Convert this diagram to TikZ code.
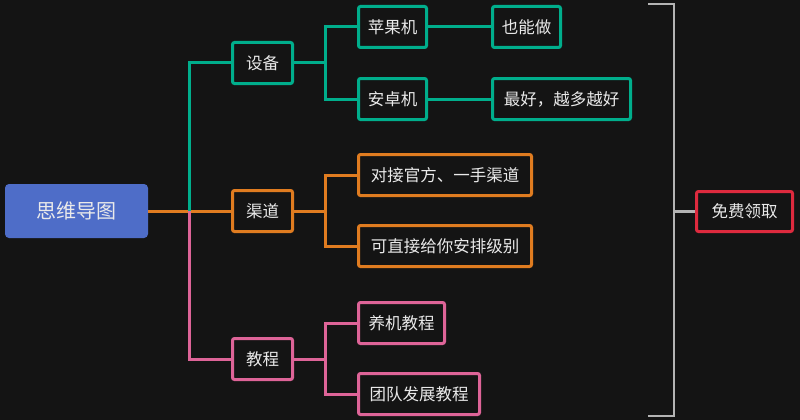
\documentclass[tikz,border=0pt]{standalone}
\usepackage{fontspec}
\setmainfont{Noto Sans CJK SC}
\definecolor{bg}{HTML}{141414}
\definecolor{rootblue}{HTML}{4E6DC8}
\definecolor{tgreen}{HTML}{00AE8C}
\definecolor{torange}{HTML}{E07C20}
\definecolor{tpink}{HTML}{DE6498}
\definecolor{tred}{HTML}{DE2A3E}
\definecolor{tgray}{HTML}{B4B4B4}
\definecolor{txt}{HTML}{EAEAEA}
\begin{document}
\begin{tikzpicture}[x=1pt, y=-1pt,
  every node/.style={font=\fontsize{16.5}{19}\selectfont, text=txt},
  box/.style={draw=#1, line width=3pt, rounded corners=2pt, inner sep=0pt,
              minimum height=41pt},
  link/.style={line width=3pt}]

% --- Fondo ---
\fill[bg] (0,0) rectangle (800,420);

% --- Nodos ---
\node[fill=rootblue, rounded corners=4pt, minimum width=143pt, minimum height=54pt,
      font=\fontsize{20}{24}\selectfont] (R) at (76.5,211) {思维导图};

\node[box=tgreen,  minimum width=60pt] (S) at (262.5,63)  {设备};
\node[box=torange, minimum width=60pt] (Q) at (262.5,211) {渠道};
\node[box=tpink,   minimum width=60pt] (J) at (262.5,359) {教程};

\node[box=tgreen, minimum width=68pt]  (S1) at (392.5,27) {苹果机};
\node[box=tgreen, minimum width=68pt]  (S2) at (392.5,99) {安卓机};
\node[box=tgreen, minimum width=68pt]  (S3) at (526.5,27) {也能做};
\node[box=tgreen, minimum width=138pt] (S4) at (561.5,99) {最好，越多越好};

\node[box=torange, minimum width=173pt] (Q1) at (445,175) {对接官方、一手渠道};
\node[box=torange, minimum width=173pt] (Q2) at (445,246) {可直接给你安排级别};

\node[box=tpink, minimum width=86pt]  (J1) at (401.5,323) {养机教程};
\node[box=tpink, minimum width=121pt] (J2) at (419,394)   {团队发展教程};

\node[box=tred, minimum width=96pt, minimum height=40pt] (F) at (744.5,211.5) {免费领取};

% --- Puntos de union ---
\coordinate (A) at (189,211);
\coordinate (B) at (325,63);
\coordinate (C) at (325,211);
\coordinate (D) at (325,359);
\coordinate (E1) at (648,4);
\coordinate (E2) at (648,416);
\coordinate (G) at (674,211.5);

% --- Ramas ---
\draw[link, torange] (R.east) -- (Q.west);
\draw[link, tgreen] (A) |- (S.west);
\draw[link, tpink]  (A) |- (J.west);

\draw[link, tgreen] (S.east) -- (B);
\draw[link, tgreen] (B) |- (S1.west);
\draw[link, tgreen] (B) |- (S2.west);
\draw[link, tgreen] (S1.east) -- (S3.west);
\draw[link, tgreen] (S2.east) -- (S4.west);

\draw[link, torange] (Q.east) -- (C);
\draw[link, torange] (C) |- (Q1.west);
\draw[link, torange] (C) |- (Q2.west);

\draw[link, tpink] (J.east) -- (D);
\draw[link, tpink] (D) |- (J1.west);
\draw[link, tpink] (D) |- (J2.west);

% --- Llave de resumen ---
\draw[line width=2.5pt, tgray] (E1) -| (G) |- (E2);
\draw[line width=2.5pt, tgray] (G) -- (F.west);

\end{tikzpicture}
\end{document}
